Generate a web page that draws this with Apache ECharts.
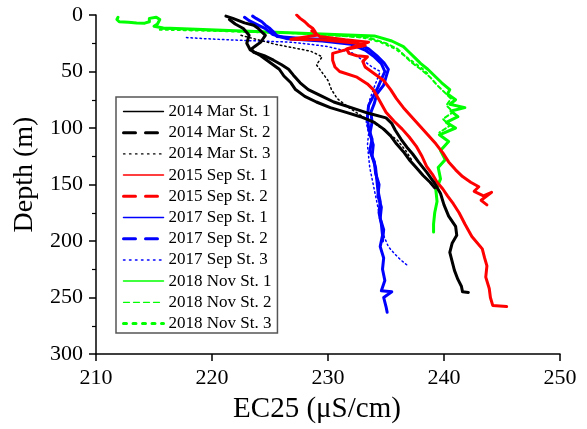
<!DOCTYPE html>
<html>
<head>
<meta charset="utf-8">
<script src="https://cdn.jsdelivr.net/npm/echarts@6/dist/echarts.min.js"></script>
<style>
html,body{margin:0;padding:0;background:#fff;}
#chart{width:587px;height:429px;}
</style>
</head>
<body>
<div id="chart"></div>
<script>
// ---- data: [EC25 (uS/cm), depth (m)] ----
const seriesNames = ["2014 Mar St. 1","2014 Mar St. 2","2014 Mar St. 3","2015 Sep St. 1","2015 Sep St. 2","2017 Sep St. 1","2017 Sep St. 2","2017 Sep St. 3","2018 Nov St. 1","2018 Nov St. 2","2018 Nov St. 3"];
const xTicks = [210,220,230,240,250];
const yTicks = [0,50,100,150,200,250,300];

const mar14St1 = [[221.2,1],[221.8,3],[222.3,5],[222.8,7],[223.6,9],[224,12],[224.3,15],[224.6,18],[224.4,21],[224.2,24],[223.8,27],[223.4,30],[223.6,33],[224.5,36],[225.3,40],[226,44],[226.6,48],[227,53],[227.6,60],[228.3,66],[229.5,72],[230.5,77],[232,82],[233.5,87],[235,91],[235.5,96],[235.8,102],[236.3,110],[236.8,117],[237.3,123],[237.8,130],[238.5,139],[239.2,149],[239.7,158],[240,168],[240.4,178],[241,187],[241.1,195],[240.7,202],[240.5,210],[240.7,218],[240.9,226],[241.2,234],[241.5,240],[241.6,245],[242.1,245.5]];
const mar14St2 = [[221.5,4],[222,8],[222.7,12],[223.2,18],[223,25],[223.3,31],[224.2,36],[225,42],[225.8,48],[226.2,54],[226.8,60],[227.2,66],[228,72],[229,77],[230.2,82],[231.5,86],[232.8,90],[234,95],[234.8,101],[235.4,107],[235.9,114],[236.5,121],[237,128],[237.6,135],[238.2,142],[238.8,148],[239.2,153]];
const mar14St3 = [[222.5,18],[224,22],[225.5,26],[227,29],[228.5,32],[229.5,37],[229,44],[229.5,51],[230,58],[230.3,66],[230.8,74],[231.8,82],[233,90],[234,96],[235,103],[236,111],[236.7,120],[237.2,128]];
const sep15St1 = [[227.3,0],[227.6,3],[228,6],[228.3,9],[228.7,12],[228.9,15],[229,18],[226.8,21.5],[229.5,22],[231,23.5],[232.5,25],[233.2,27],[231.8,30],[230.4,34],[230.4,40],[230.6,46],[231,50],[232.5,55],[233.4,61],[233.9,66],[234.4,75],[235,86],[235.7,94],[236.4,101],[237,108],[237.6,116],[238.1,125],[238.5,134],[239,141],[239.4,148],[239.9,154],[240.3,160],[240.8,167],[241.3,175],[241.8,185],[242.4,196],[243.3,207],[243.5,215],[243.7,222],[243.6,232],[243.9,242],[244,250],[244.2,257],[245.4,258]];
const sep15St2 = [[228.6,14],[229.3,19],[231.5,22],[233.5,24],[232.6,27],[231.6,30],[231.8,34],[232.5,36],[233.4,37],[233,41],[233.2,46],[234,52],[234.8,58],[235.4,66],[235.9,74],[236.5,82],[237.2,90],[237.9,98],[238.6,106],[239.3,114],[239.9,122],[240.4,130],[241,137],[241.6,143],[242.3,148],[243,152],[242.6,156],[243.4,160],[244.1,157],[243.2,164],[243.7,168]];
const sep17St1 = [[223.5,1],[223.8,3],[224.3,6],[224.6,9],[225,12],[225.4,16],[225.6,19],[228,21],[231,22],[232.5,25],[233.5,30],[234.2,36],[234.8,42],[235.2,48],[235,55],[234.8,62],[234.2,70],[234,78],[233.7,86],[233.8,95],[233.6,105],[233.9,115],[233.8,125],[234.1,135],[234.2,145],[234.3,155],[234.5,165],[234.4,175],[234.6,185],[234.7,195],[234.5,205],[234.8,215],[234.7,225],[234.9,235],[234.6,244],[235.5,245],[234.8,250],[235,258],[235.1,263]];
const sep17St2 = [[222.8,2],[223.2,5],[223.8,8],[224.6,12],[225.2,17],[226.5,21],[229.5,23],[232,26],[233.2,31],[234,37],[234.6,43],[234.9,50],[234.6,57],[234.3,64],[233.9,72],[233.5,80],[233.4,90],[233.5,100],[233.8,110],[233.6,120],[234,130],[234.1,140],[234.4,150],[234.3,160],[234.6,170],[234.5,180],[234.8,190],[234.7,200]];
const sep17St3 = [[217.8,20],[219.5,21],[221.5,22],[224,23],[226.7,24],[228.5,26],[230,28],[232,33],[233,40],[233.8,46],[234.5,50],[234.2,58],[233.9,66],[233.6,75],[233.4,85],[233.3,95],[233.5,105],[233.4,115],[233.5,125],[233.6,135],[233.8,145],[234,155],[234.2,165],[234.4,175],[234.6,185],[234.8,195],[235.2,205],[235.8,212],[236.3,217],[236.9,222]];
const nov18St1 = [[211.9,2],[211.8,4],[212,6],[212.8,6.5],[213.5,7],[214.2,7.2],[214.6,6],[214.6,3],[215.2,2],[215.5,4],[215.3,8],[215,10],[215.8,11.5],[234,18.5],[235.5,23],[236.5,28],[237,33],[237.5,38],[238,43],[238.6,48],[239.2,54],[239.8,60],[240.5,66],[240.3,70],[241,75],[240.5,79],[241.8,82],[240.6,85],[241.2,90],[240.2,95],[241,100],[239.6,106],[240.4,112],[239.7,120],[240.1,128],[239.5,135],[239.7,145],[239.3,155],[239.4,165],[239.2,175],[239.1,185],[239.1,192]];
const nov18St2 = [[215.6,12],[227,16],[233.5,20],[235,25],[236,30],[236.6,36],[237.2,42],[238,48],[238.8,55],[239.4,62],[240,68],[240.6,74],[240.2,80],[240.8,86],[239.9,92],[240.5,98],[239.6,104]];
const nov18St3 = [[215.5,13],[220,14],[225,15.5],[230,17],[233,20],[234.5,24],[235.8,30],[236.6,36],[237.4,42],[238.2,48],[238.8,54]];

const dataList = [mar14St1,mar14St2,mar14St3,sep15St1,sep15St2,sep17St1,sep17St2,sep17St3,nov18St1,nov18St2,nov18St3];
const colors = ["#000000","#000000","#000000","#ff0000","#ff0000","#0000ff","#0000ff","#0000ff","#00ff00","#00ff00","#00ff00"];
// plot stroke styles
const plotWidth = [3,3,1.5,3,3,3,3,1.5,3,2,2];
const plotType  = ["solid","solid",[1.5,3],"solid","solid","solid","solid",[1.5,3],"solid",[4,3],[2,4]];
// legend sample styles
const legWidth = [1.3,3,1.3,1.5,3,1.5,3,1.5,1.5,1.3,3];
const legType  = ["solid",[12,10],[1.5,4.5],"solid",[12,10],"solid",[12,10],[1.5,4.5],"solid",[6,4],[3,6.5]];

const FONT = "Liberation Serif";
const chart = echarts.init(document.getElementById('chart'), null, {renderer:'canvas'});

const series = dataList.map((d,i)=>({
  name: seriesNames[i],
  type: 'line',
  data: d,
  symbol: 'none',
  smooth: false,
  animation: false,
  lineStyle: {color: colors[i], width: plotWidth[i], type: plotType[i], cap:'round', join:'round'},
  itemStyle: {color: colors[i]},
  z: 2 + (10 - i)
}));

chart.setOption({
  animation: false,
  backgroundColor: '#fff',
  grid: {left: 96, right: 27, top: 15, bottom: 74, containLabel: false},
  xAxis: {
    type: 'value', min: 210, max: 250, interval: 10,
    name: 'EC25 (\u03bcS/cm)', nameLocation: 'middle', nameGap: 41,
    nameTextStyle: {fontFamily: FONT, fontSize: 29, color: '#000', padding: [0, 22, 0, 0]},
    axisLine: {show: true, onZero: false, lineStyle: {color: '#000', width: 1.5}},
    axisTick: {show: true, inside: false, length: 7, lineStyle: {color: '#000', width: 1.5}},
    minorTick: {show: false},
    axisLabel: {fontFamily: FONT, fontSize: 22, color: '#000', margin: 13,
      formatter: v => xTicks.includes(v) ? String(v) : ''},
    splitLine: {show: false}
  },
  yAxis: {
    type: 'value', min: 0, max: 300, interval: 50, inverse: true,
    name: 'Depth (m)', nameLocation: 'middle', nameGap: 56, nameRotate: 90,
    nameTextStyle: {fontFamily: FONT, fontSize: 28, color: '#000', padding: [0, 0, 0, 20]},
    axisLine: {show: true, onZero: false, lineStyle: {color: '#000', width: 1.5}},
    axisTick: {show: true, inside: false, length: 7, lineStyle: {color: '#000', width: 1.5}},
    minorTick: {show: true, splitNumber: 2, length: 4, lineStyle: {color: '#000', width: 1.2}},
    axisLabel: {fontFamily: FONT, fontSize: 22, color: '#000', margin: 13,
      formatter: v => yTicks.includes(v) ? String(v) : ''},
    splitLine: {show: false}
  },
  legend: {
    show: true,
    orient: 'vertical', left: 116, top: 97,
    padding: [6, 6, 1, 6],
    backgroundColor: '#fff',
    borderColor: '#555', borderWidth: 1.5,
    itemWidth: 40, itemHeight: 14, itemGap: 4.2,
    textStyle: {fontFamily: FONT, fontSize: 17, color: '#000'},
    data: seriesNames.map((n,i)=>({
      name: n,
      lineStyle: {color: colors[i], width: legWidth[i], type: legType[i]},
      itemStyle: {opacity: 0, borderWidth: 0}
    }))
  },
  series: series
});
</script>
</body>
</html>
